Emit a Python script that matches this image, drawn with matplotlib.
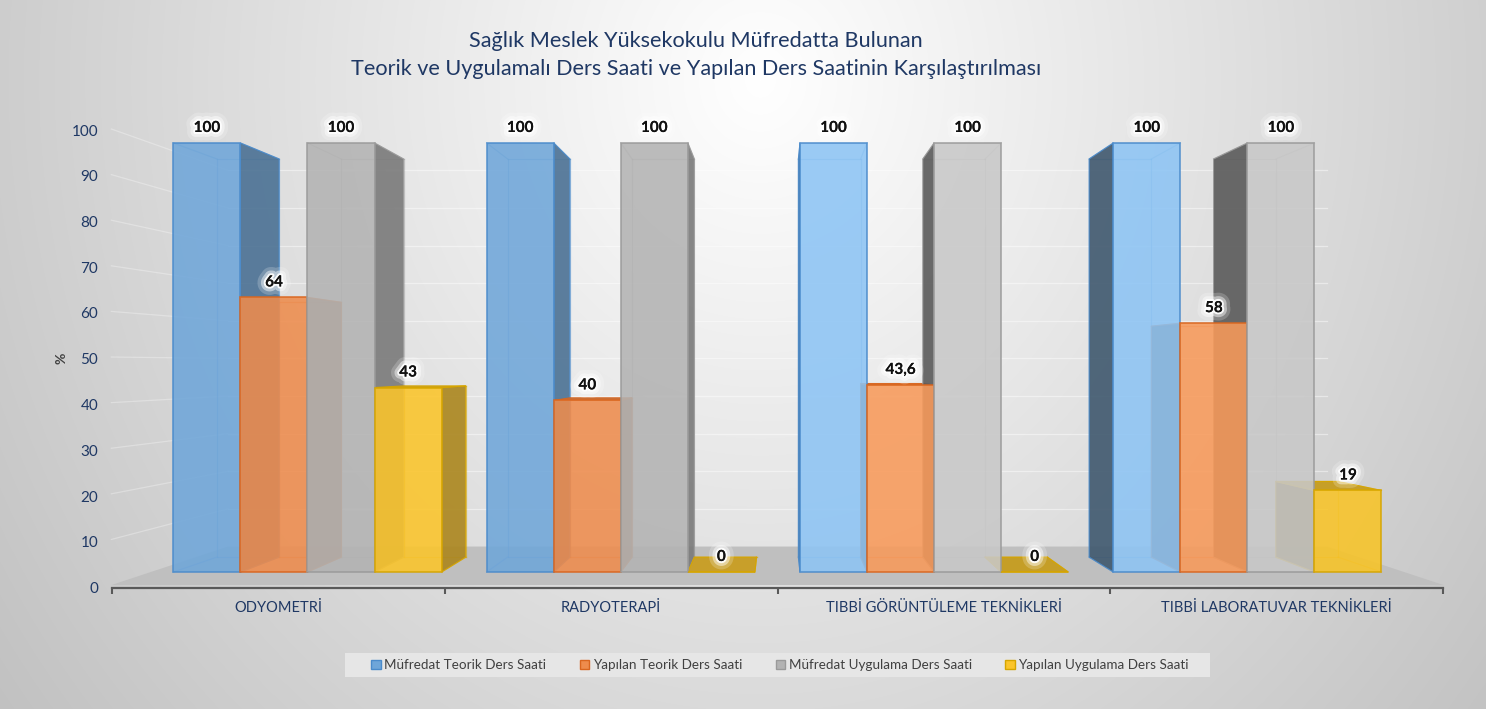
import matplotlib
matplotlib.use('Agg')
import matplotlib.pyplot as plt
import matplotlib.patheffects as pe
from matplotlib.patches import Polygon, Patch, Rectangle
from matplotlib.colors import to_rgb
import numpy as np

# chart data
categories = ['ODYOMETRİ', 'RADYOTERAPİ', 'TIBBİ GÖRÜNTÜLEME TEKNİKLERİ', 'TIBBİ LABORATUVAR TEKNİKLERİ']
seriesNames = ['Müfredat Teorik Ders Saati', 'Yapılan Teorik Ders Saati',
               'Müfredat Uygulama Ders Saati', 'Yapılan Uygulama Ders Saati']
mufredatTeorik = [100, 100, 100, 100]
yapilanTeorik = [64, 40, 43.6, 58]
mufredatUygulama = [100, 100, 100, 100]
yapilanUygulama = [43, 0, 0, 19]
yTicks = [0, 10, 20, 30, 40, 50, 60, 70, 80, 90, 100]
titleLines = ['Sağlık Meslek Yüksekokulu Müfredatta Bulunan',
              'Teorik ve Uygulamalı Ders Saati ve Yapılan Ders Saatinin Karşılaştırılması']

seriesColors = ['#6FA6D9', '#EE8C4D', '#B3B3B3', '#FBC52A']
litColors = ['#8DC4F4', '#F89A5A', '#C8C8C8', '#F8C427']   # right half of the chart is lit more
edgeColors = ['#4B8BCB', '#D9661F', '#9A9A9A', '#D6A500']
groupLit = [False, False, True, True]

chartFont = ['Lato', 'DejaVu Sans']
navy = '#1F3864'

# fake 3d: everything is scaled toward a vanishing point in data units
vanishX = 1.5
vanishY = 48.25
depthBack = 0.928
wallFront = 1.063
wallBack = 0.877
barWidth = 0.214


def project(x, v, s):
    return (vanishX + s * (x - vanishX), vanishY + s * (v - vanishY))


def shade(color, k):
    rgb = np.array(to_rgb(color))
    return tuple(np.clip(rgb * k, 0, 1))


def fmtValue(v):
    if float(v).is_integer():
        return str(int(v))
    return str(v).replace('.', ',')


def drawBackground(fig):
    bg = fig.add_axes([0, 0, 1, 1], zorder=-5)
    yy, xx = np.mgrid[0:709, 0:1486]
    d = np.sqrt(((xx - 760) / 900.0) ** 2 + ((yy - 80) / 1000.0) ** 2)
    val = 1 - 0.23 * np.clip(d, 0, 1.2)
    bg.imshow(np.dstack([val, val, val]), aspect='auto', extent=(0, 1, 0, 1))
    bg.set_xlim(0, 1)
    bg.set_ylim(0, 1)
    bg.axis('off')


def drawWalls(ax):
    floor = [project(-0.5, 0, wallFront), project(3.5, 0, wallFront),
             project(3.5, 0, wallBack), project(-0.5, 0, wallBack)]
    ax.add_patch(Polygon(floor, closed=True, facecolor='#BFBFBF', edgecolor='none', zorder=1))
    for v in yTicks[1:]:
        a = project(-0.5, v, wallFront)
        b = project(-0.5, v, wallBack)
        c = project(3.5, v, wallBack)
        ax.plot([a[0], b[0]], [a[1], b[1]], color='white', alpha=0.3, lw=0.9, zorder=1)
        ax.plot([b[0], c[0]], [b[1], c[1]], color='white', alpha=0.45, lw=0.9, zorder=1)


def drawBox(ax, x0, x1, value, color, edge):
    fbl, fbr = project(x0, 0, 1), project(x1, 0, 1)
    ftl, ftr = project(x0, value, 1), project(x1, value, 1)
    bbl, bbr = project(x0, 0, depthBack), project(x1, 0, depthBack)
    btl, btr = project(x0, value, depthBack), project(x1, value, depthBack)
    # hidden edges, seen through the glassy faces
    for p, q in [(bbl, bbr), (bbr, btr), (btr, btl), (btl, bbl),
                 (fbl, bbl), (fbr, bbr), (ftl, btl), (ftr, btr)]:
        ax.plot([p[0], q[0]], [p[1], q[1]], color=edge, alpha=0.45, lw=0.9, zorder=2)
    if x1 < vanishX:
        side, k = [fbr, ftr, btr, bbr], 0.68
    else:
        side, k = [fbl, ftl, btl, bbl], 0.45
    if value > 0:
        ax.add_patch(Polygon(side, closed=True, facecolor=shade(color, k), edgecolor=edge,
                             lw=0.8, alpha=0.9, zorder=3))
    if value < vanishY:
        top = [ftl, ftr, btr, btl]
        ax.add_patch(Polygon(top, closed=True, facecolor=shade(color, 0.8), edgecolor=edge,
                             lw=0.8, alpha=0.95, zorder=3))


def main():
    fig = plt.figure(figsize=(14.86, 7.09), dpi=100)
    drawBackground(fig)

    # axis with tick labels, placed on the front edge of the left wall
    ax2 = fig.add_axes([112 / 1486, 121.5 / 709, 1331 / 1486, 457.5 / 709], zorder=1)
    ax2.patch.set_alpha(0)
    ax2.set_xlim(-0.5, 3.5)
    ax2.set_ylim(0, 100)
    for s in ['left', 'top', 'right']:
        ax2.spines[s].set_visible(False)
    ax2.spines['bottom'].set_color('#595959')
    ax2.spines['bottom'].set_linewidth(1.6)
    ax2.set_yticks(yTicks)
    ax2.set_yticklabels([str(t) for t in yTicks], color=navy, fontsize=11, family=chartFont)
    ax2.tick_params(axis='y', length=0, pad=10)
    ax2.set_xticks([-0.5, 0.5, 1.5, 2.5, 3.5])
    ax2.set_xticklabels([])
    ax2.tick_params(axis='x', which='major', length=4, width=1.5, color='#595959')
    ax2.set_xticks(range(len(categories)), minor=True)
    ax2.set_xticklabels(categories, minor=True, color=navy, fontsize=10.5, family=chartFont)
    ax2.tick_params(axis='x', which='minor', length=0, pad=10)

    ax = fig.add_axes([0, 0, 1, 1], zorder=2)
    ax.patch.set_alpha(0)
    ax.set_xlim(-307.5 / 313.3, 1178.5 / 313.3)
    ax.set_ylim(-137 / 4.29, 572 / 4.29)
    ax.axis('off')

    drawWalls(ax)

    allSeries = [mufredatTeorik, yapilanTeorik, mufredatUygulama, yapilanUygulama]
    groups = np.arange(len(categories))
    for i, values in enumerate(allSeries):
        xs = groups + (i - 1.5) * barWidth
        fronts = [litColors[i] if groupLit[g] else seriesColors[i] for g in groups]
        for g, x in enumerate(xs):
            drawBox(ax, x - barWidth / 2, x + barWidth / 2, values[g], fronts[g], edgeColors[i])
        ax.bar(xs, values, width=barWidth, color=fronts, edgecolor=edgeColors[i],
               linewidth=1.2, alpha=0.88, zorder=4)
        for g, x in enumerate(xs):
            ax.text(x, values[g] + 3.5, fmtValue(values[g]), ha='center', va='center',
                    fontsize=11, fontweight='bold', color='#111111',
                    family=chartFont, zorder=6,
                    path_effects=[pe.withStroke(linewidth=12, foreground='white', alpha=0.2),
                                  pe.withStroke(linewidth=7, foreground='white', alpha=0.45),
                                  pe.withStroke(linewidth=3, foreground='white', alpha=0.9),
                                  pe.Normal()])

    fig.text(0.4684, 1 - 41 / 709, titleLines[0], ha='center', va='center', fontsize=15.6,
             color=navy, family=chartFont)
    fig.text(0.4684, 1 - 69 / 709, titleLines[1], ha='center', va='center', fontsize=15.6,
             color=navy, family=chartFont)
    fig.text(61 / 1486, 1 - 358 / 709, '%', rotation=90, ha='center', va='center',
             fontsize=10, fontweight='bold', color='#404040', family=chartFont)

    # legend band drawn separately, it has wider side padding than a matplotlib frame
    fig.patches.append(Rectangle((345 / 1486, 1 - 677 / 709), 865 / 1486, 24 / 709,
                                 transform=fig.transFigure, facecolor='#E6E6E6',
                                 edgecolor='none', zorder=4))
    handles = [Patch(facecolor=c, edgecolor=e) for c, e in zip(seriesColors, edgeColors)]
    leg = fig.legend(handles, seriesNames, loc='center', bbox_to_anchor=(780 / 1486, 1 - 665 / 709),
                     ncol=4, frameon=False, handlelength=0.7, handleheight=0.7, handletextpad=0.25,
                     columnspacing=2.5, labelcolor='#404040',
                     prop={'family': chartFont, 'size': 9.7})
    leg.set_zorder(5)

    fig.savefig('out.png', dpi=100)


if __name__ == "__main__":
    main()
